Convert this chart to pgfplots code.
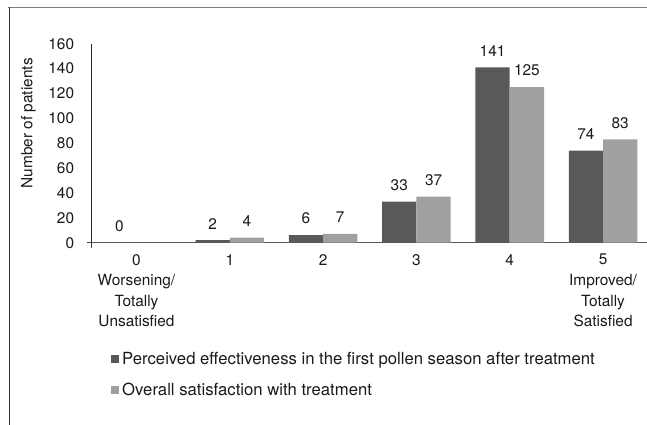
\documentclass[border=0pt]{standalone}
\usepackage{fontspec}
\setmainfont{TeX Gyre Heros}
\usepackage{pgfplots}
\pgfplotsset{compat=1.18}
\definecolor{darkbar}{HTML}{595959}
\definecolor{lightbar}{HTML}{A0A0A0}
\definecolor{txt}{HTML}{1A1A1A}
\newcommand\cf{\fontsize{15.4}{20.6}\selectfont}
\newcommand\lf{\fontsize{16.7}{20}\selectfont}
\pgfplotsset{/pgf/number format/assume math mode=true}
\begin{document}
\begin{tikzpicture}
\draw[color=black!50, line width=1.2pt] (8.3pt,-7.3pt) -- (660pt,-7.3pt);
\draw[color=black!80, line width=1pt] (9pt,-7.3pt) -- (9pt,-440pt);
\begin{axis}[
  at={(91.7pt,-242.7pt)}, anchor=south west,
  scale only axis, width=558pt, height=199pt,
  xmin=-0.48, xmax=5.5, ymin=0, ymax=160,
  axis x line=bottom, axis y line=left,
  axis line style={-},
  x axis line style={draw=black!65, line width=1.3pt},
  y axis line style={draw=black!85, line width=0.8pt},
  xtick={0,...,5}, ytick={0,20,...,160},
  major tick length=0pt,
  extra x ticks={-0.48}, extra x tick labels={},
  extra y ticks={0}, extra y tick labels={},
  extra tick style={major tick length=5pt, tick align=outside, tick style={draw=black!75, line width=0.8pt}},
  xticklabels={{0\\Worsening/\\Totally\\Unsatisfied},1,2,3,4,{5\\Improved/\\Totally\\Satisfied}},
  xticklabel style={font=\cf, align=center, anchor=north, inner sep=0pt, yshift=-11.3pt, text=txt},
  yticklabel style={font=\cf, anchor=east, inner sep=0pt, xshift=-17.4pt, text=txt},
  ylabel={Number of patients},
  ylabel style={font=\cf, at={(axis description cs:-0.1135,0.6)}, anchor=center, text=txt},
  ybar=0pt, bar width=34.3pt,
  nodes near coords,
  every node near coord/.append style={font=\cf, inner sep=0pt, yshift=11pt, text=txt},
  legend style={at={(axis description cs:0.0346,-0.55)}, anchor=north west, draw=none, fill=none,
    inner sep=0pt, font=\lf, row sep=17pt, text=txt,
    nodes={inner sep=0pt},
    /tikz/every odd column/.append style={column sep=3pt}},
  legend cell align=left,
  legend image code/.code={\fill[#1] (0pt,-4pt) rectangle (8pt,4pt);},
]
\addplot[fill=darkbar, draw=none] coordinates {(0,0) (1,2) (2,6) (3,33) (4,141) (5,74)};
\addplot[fill=lightbar, draw=none] coordinates {(1,4) (2,7) (3,37) (4,125) (5,83)};
\legend{Perceived effectiveness in the first pollen season after treatment, Overall satisfaction with treatment}
\end{axis}
\pgfresetboundingbox
\useasboundingbox (0pt,0pt) rectangle (647pt,-425pt);
\end{tikzpicture}
\end{document}
